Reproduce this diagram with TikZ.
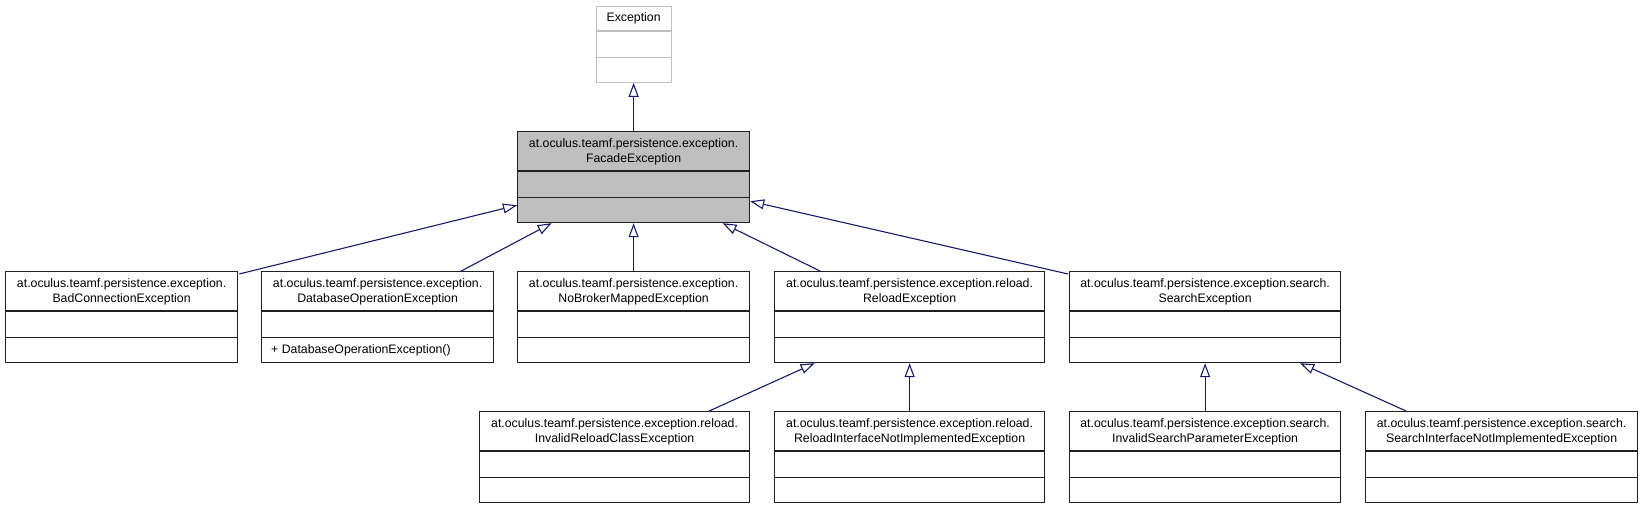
\documentclass[tikz,border=0pt]{standalone}
\usepackage{fontspec}
\setmainfont{Liberation Sans}
\usetikzlibrary{arrows.meta}
\definecolor{edgeblue}{HTML}{191970}
\definecolor{lightbd}{HTML}{BFBFBF}
\definecolor{grayfill}{HTML}{BFBFBF}
\definecolor{boxbd}{HTML}{202020}
\newcommand\umlclass[8]{% name, x, y, width, fill, border, title, ops
  \node[clsbox, minimum width=#4, fill=#5, draw=#6] (#1) at (#2,#3) {};
  \draw[draw=#6, line width=1.2pt] ([yshift=-40pt]#1.north west) -- ([yshift=-40pt]#1.north east);
  \draw[draw=#6, line width=1.2pt] ([yshift=25.5pt]#1.south west) -- ([yshift=25.5pt]#1.south east);
  \node[titletext] (#1-title) at ([yshift=-20.5pt]#1.north) {#7};
  \node[opstext] (#1-ops) at ([xshift=10pt,yshift=12.8pt]#1.south west) {#8};
}
\begin{document}
\begin{tikzpicture}[x=1pt,y=-1pt,
  clsbox/.style={rectangle, line width=1.2pt, inner sep=0pt, anchor=north west, minimum height=91pt},
  titletext/.style={align=center, inner sep=0pt, font=\fontsize{12.3}{15}\selectfont},
  opstext/.style={anchor=west, inner sep=0pt, font=\fontsize{12.3}{15}\selectfont},
  inh/.style={draw=edgeblue, line width=1.1pt, -{Triangle[open, length=14pt, width=10pt, fill=white]}}
]
\useasboundingbox (0,0) rectangle (1643,508);

% Exception (gray border)
\node[clsbox, minimum width=75pt, minimum height=76pt, fill=white, draw=lightbd] (exc) at (595.5,5.7) {};
\draw[draw=lightbd, line width=1.2pt] ([yshift=-25.3pt]exc.north west) -- ([yshift=-25.3pt]exc.north east);
\draw[draw=lightbd, line width=1.2pt] ([yshift=25pt]exc.south west) -- ([yshift=25pt]exc.south east);
\node[titletext] (exc-title) at ([yshift=-12.7pt]exc.north) {Exception};

% FacadeException
\umlclass{facade}{517}{131}{232pt}{grayfill}{boxbd}{at.oculus.teamf.persistence.exception.\\FacadeException}{}

% Row 2
\umlclass{bad}{5}{271}{232pt}{white}{boxbd}{at.oculus.teamf.persistence.exception.\\BadConnectionException}{}
\umlclass{db}{261}{271}{232pt}{white}{boxbd}{at.oculus.teamf.persistence.exception.\\DatabaseOperationException}{+ DatabaseOperationException()}
\umlclass{nob}{517}{271}{232pt}{white}{boxbd}{at.oculus.teamf.persistence.exception.\\NoBrokerMappedException}{}
\umlclass{rel}{774}{271}{270pt}{white}{boxbd}{at.oculus.teamf.persistence.exception.reload.\\ReloadException}{}
\umlclass{srch}{1069}{271}{271pt}{white}{boxbd}{at.oculus.teamf.persistence.exception.search.\\SearchException}{}

% Row 3
\umlclass{irc}{479}{411}{270pt}{white}{boxbd}{at.oculus.teamf.persistence.exception.reload.\\InvalidReloadClassException}{}
\umlclass{rini}{774}{411}{270pt}{white}{boxbd}{at.oculus.teamf.persistence.exception.reload.\\ReloadInterfaceNotImplementedException}{}
\umlclass{isp}{1069}{411}{271pt}{white}{boxbd}{at.oculus.teamf.persistence.exception.search.\\InvalidSearchParameterException}{}
\umlclass{sini}{1365}{411}{272pt}{white}{boxbd}{at.oculus.teamf.persistence.exception.search.\\SearchInterfaceNotImplementedException}{}

% Inheritance edges
\draw[inh] (facade.north) -- (exc.south);
\draw[inh] ([xshift=1pt,yshift=-3pt]bad.north east) -- ([yshift=18pt]facade.south west);
\draw[inh] ([xshift=-33pt]db.north east) -- ([xshift=-82pt]facade.south);
\draw[inh] (nob.north) -- (facade.south);
\draw[inh] ([xshift=46pt]rel.north west) -- ([xshift=89pt]facade.south);
\draw[inh] ([xshift=-1pt,yshift=-3pt]srch.north west) -- ([yshift=22pt]facade.south east);
\draw[inh] ([xshift=-41pt]irc.north east) -- ([xshift=-95pt]rel.south);
\draw[inh] (rini.north) -- (rel.south);
\draw[inh] (isp.north) -- (srch.south);
\draw[inh] ([xshift=41pt]sini.north west) -- ([xshift=95pt]srch.south);
\end{tikzpicture}
\end{document}
